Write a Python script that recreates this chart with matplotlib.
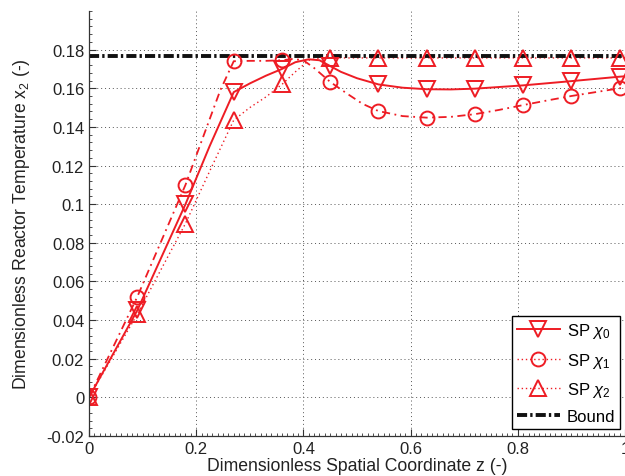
import matplotlib
matplotlib.use("Agg")
import matplotlib.pyplot as plt
from matplotlib.ticker import MultipleLocator, FuncFormatter

plt.rcParams["font.family"] = ["Liberation Sans", "DejaVu Sans"]
plt.rcParams["mathtext.fontset"] = "custom"
plt.rcParams["mathtext.rm"] = "Liberation Sans"
plt.rcParams["mathtext.it"] = "Liberation Sans:italic"
plt.rcParams["axes.unicode_minus"] = False

# Collocation nodes along the reactor (marker positions)
z_nodes = [0.0, 0.09, 0.18, 0.27, 0.36, 0.45, 0.54, 0.63, 0.72, 0.81, 0.90, 0.99]
chi0_nodes = [0.0, 0.045, 0.100, 0.158, 0.1700, 0.1715, 0.1620, 0.1595, 0.1598, 0.1615, 0.1637, 0.1660]
chi1_nodes = [0.0, 0.052, 0.110, 0.174, 0.1745, 0.1633, 0.1482, 0.1448, 0.1466, 0.1513, 0.1560, 0.1600]
chi2_nodes = [0.0, 0.043, 0.090, 0.1435, 0.1620, 0.1757, 0.1757, 0.1757, 0.1757, 0.1757, 0.1757, 0.1757]

# Temperature profiles evaluated between the nodes
z_chi0 = [0.0, 0.09, 0.18, 0.225, 0.27, 0.30, 0.33, 0.36, 0.385, 0.41, 0.43, 0.45, 0.47,
          0.50, 0.54, 0.585, 0.63, 0.675, 0.72, 0.81, 0.90, 0.99, 1.0]
chi0_curve = [0.0, 0.045, 0.100, 0.130, 0.158, 0.1625, 0.1665, 0.1700, 0.1735, 0.1750, 0.1745,
              0.1715, 0.1685, 0.1652, 0.1620, 0.1603, 0.1595, 0.1594, 0.1598, 0.1615, 0.1637,
              0.1660, 0.1662]

z_chi1 = [0.0, 0.09, 0.18, 0.245, 0.27, 0.30, 0.33, 0.36, 0.38, 0.40, 0.42, 0.45, 0.48,
          0.51, 0.54, 0.585, 0.63, 0.675, 0.72, 0.765, 0.81, 0.855, 0.90, 0.945, 0.99, 1.0]
chi1_curve = [0.0, 0.052, 0.110, 0.159, 0.174, 0.1742, 0.1742, 0.1745, 0.1752, 0.1745, 0.1705,
              0.1633, 0.1575, 0.1520, 0.1482, 0.1456, 0.1448, 0.1452, 0.1466, 0.1488, 0.1513,
              0.1537, 0.1560, 0.1580, 0.1600, 0.1603]

z_chi2 = [0.0, 0.09, 0.18, 0.225, 0.27, 0.30, 0.33, 0.36, 0.385, 0.41, 0.43, 0.45, 1.0]
chi2_curve = [0.0, 0.043, 0.090, 0.117, 0.1435, 0.1500, 0.1555, 0.1620, 0.1685, 0.1745,
              0.1757, 0.1757, 0.1757]

bound_z = [0.0, 1.0]
bound_value = 0.1767

x_ticks = [0, 0.2, 0.4, 0.6, 0.8, 1.0]
y_ticks = [-0.02, 0, 0.02, 0.04, 0.06, 0.08, 0.10, 0.12, 0.14, 0.16, 0.18]

red = "#ee1c24"

fig = plt.figure(figsize=(6.25, 4.77), dpi=100)
ax = fig.add_axes([89 / 625, 40 / 477, 536 / 625, 425 / 477])

ax.plot(z_chi0, chi0_curve, color=red, lw=1.4, ls="-")
ax.plot(z_chi1, chi1_curve, color=red, lw=1.3, ls=(0, (4.5, 2.5, 1, 2.5)))
ax.plot(z_chi2, chi2_curve, color=red, lw=1.0, ls=(0, (1, 2.2)))
ax.plot(bound_z, [bound_value] * len(bound_z), color="#111111", lw=2.8,
        ls=(0, (2.6, 0.8, 0.6, 0.8)))

ax.plot(z_nodes, chi0_nodes, ls="none", marker="v", ms=11, mfc="none", mec=red, mew=1.4)
ax.plot(z_nodes, chi1_nodes, ls="none", marker="o", ms=10, mfc="none", mec=red, mew=1.4)
ax.plot(z_nodes, chi2_nodes, ls="none", marker="^", ms=11, mfc="none", mec=red, mew=1.4)

# legend handles combining line style and marker
h0, = ax.plot([], [], color=red, lw=1.4, ls="-", marker="v", ms=11, mfc="none", mew=1.4)
h1, = ax.plot([], [], color=red, lw=1.0, ls=(0, (1, 2)), marker="o", ms=10, mfc="none", mew=1.4)
h2, = ax.plot([], [], color=red, lw=1.0, ls=(0, (1, 2)), marker="^", ms=11, mfc="none", mew=1.4)
h3, = ax.plot([], [], color="#111111", lw=2.8, ls=(0, (2.6, 0.8, 0.6, 0.8)))

leg = ax.legend([h0, h1, h2, h3],
                [r"SP $\chi_0$", r"SP $\chi_1$", r"SP $\chi_2$", "Bound"],
                loc="lower right", bbox_to_anchor=(0.991, 0.016), borderaxespad=0,
                fontsize=12, handlelength=2.6, handletextpad=0.4, labelspacing=0.62,
                borderpad=0.3, fancybox=False, framealpha=1, edgecolor="black")
leg.get_frame().set_linewidth(1.0)

ax.set_xlim(0, 1)
ax.set_ylim(-0.02, 0.2)
ax.set_xticks(x_ticks)
ax.set_yticks(y_ticks)
ax.xaxis.set_minor_locator(MultipleLocator(0.01))
ax.yaxis.set_minor_locator(MultipleLocator(0.004))
fmt = FuncFormatter(lambda v, p: f"{v:g}" if abs(v) > 1e-12 else "0")
ax.xaxis.set_major_formatter(fmt)
ax.yaxis.set_major_formatter(fmt)

ax.tick_params(which="both", direction="in", top=False, right=False, labelsize=12,
               color="#333333", labelcolor="#222222")
ax.tick_params(which="major", length=5, width=0.8)
ax.tick_params(which="minor", length=2.5, width=0.6)

for side in ("top", "right"):
    ax.spines[side].set_visible(False)
for side in ("left", "bottom"):
    ax.spines[side].set_color("#333333")
    ax.spines[side].set_linewidth(0.9)

ax.grid(True, which="major", color="#555555", lw=0.7, ls=(0, (1, 3)))
ax.set_axisbelow(True)

ax.set_xlabel("Dimensionless Spatial Coordinate z (-)", fontsize=12.7, color="#222222", labelpad=1)
ax.set_ylabel("Dimensionless Reactor Temperature x$_2$ (-)", fontsize=12.7, color="#222222",
              labelpad=10)

fig.savefig("out.png", dpi=100)
